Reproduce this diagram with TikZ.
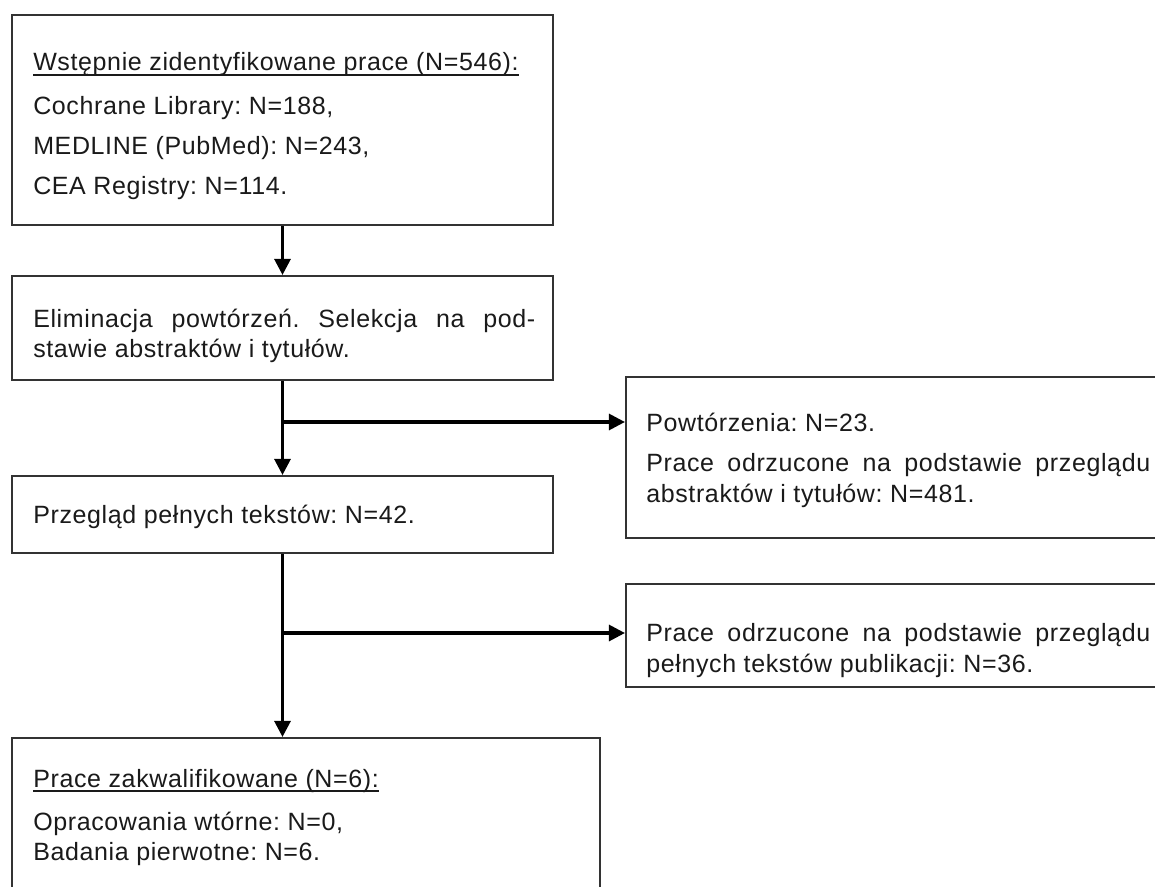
\documentclass[tikz,border=0pt]{standalone}
\usepackage{fontspec}
\setmainfont{Liberation Sans}[LetterSpace=2.5]
\usetikzlibrary{arrows.meta,fit}
\definecolor{boxline}{HTML}{333333}
\definecolor{txt}{HTML}{1A1A1A}
\frenchspacing
\tikzset{
  box/.style={draw=boxline, line width=1.6pt, inner sep=0pt, fill=none},
  tx/.style={anchor=base west, inner sep=0pt, text=txt, font=\fontsize{18.75}{24}\selectfont},
  conn/.style={draw=black, line width=2.3pt, -{Triangle[width=12pt,length=12pt]}},
  uline/.style={draw=txt, line width=1.5pt},
}
\begin{document}
\begin{tikzpicture}[x=0.75pt,y=-0.75pt]
\clip (0,0) rectangle (1155,887);
\fill[white] (0,0) rectangle (1155,887);
% boxes
\node[box, fit={(12,15) (553,225)}] (b1) {};
\node[box, fit={(12,276) (553,380)}] (b2) {};
\node[box, fit={(626,377) (1175,538)}] (b3) {};
\node[box, fit={(12,476) (553,553)}] (b4) {};
\node[box, fit={(626,584) (1175,687)}] (b5) {};
\node[box, fit={(12,738) (600,910)}] (b6) {};
% texts box 1
\node[tx] (t11) at (33,71) {Wstępnie zidentyfikowane prace (N=546):};
\draw[uline] ([yshift=-3pt]t11.base west) -- ([yshift=-3pt]t11.base east);
\node[tx] (t12) at (33,115) {Cochrane Library: N=188,};
\node[tx] (t13) at (33,155) {MEDLINE (PubMed): N=243,};
\node[tx] (t14) at (33,195) {CEA Registry: N=114.};
% box 2
\node[tx] (t21) at (33,328) {\makebox[376.5pt][s]{Eliminacja powtórzeń. Selekcja na pod-}};
\node[tx] (t22) at (33,358) {stawie abstraktów i tytułów.};
% box 3
\node[tx] (t31) at (646,431) {Powtórzenia: N=23.};
\node[tx] (t32) at (646,471) {\makebox[378pt][s]{Prace odrzucone na podstawie przeglądu}};
\node[tx] (t33) at (646,502) {abstraktów i tytułów: N=481.};
% box 4
\node[tx] (t41) at (33,523) {Przegląd pełnych tekstów: N=42.};
% box 5
\node[tx] (t51) at (646,641) {\makebox[378pt][s]{Prace odrzucone na podstawie przeglądu}};
\node[tx] (t52) at (646,672) {pełnych tekstów publikacji: N=36.};
% box 6
\node[tx] (t61) at (33,787) {Prace zakwalifikowane (N=6):};
\draw[uline] ([yshift=-3pt]t61.base west) -- ([yshift=-3pt]t61.base east);
\node[tx] (t62) at (33,830) {Opracowania wtórne: N=0,};
\node[tx] (t63) at (33,860) {Badania pierwotne: N=6.};
% connectors
\draw[conn] (b1) -- (b2);
\draw[conn] (b2) -- (b4);
\coordinate (j1) at (282.5,422);
\draw[conn] (j1) -- (j1 -| b3.west);
\draw[conn] (b4.south) -- (b4.south |- b6.north);
\coordinate (j2) at (282.5,633);
\draw[conn] (j2) -- (j2 -| b5.west);
\end{tikzpicture}
\end{document}
